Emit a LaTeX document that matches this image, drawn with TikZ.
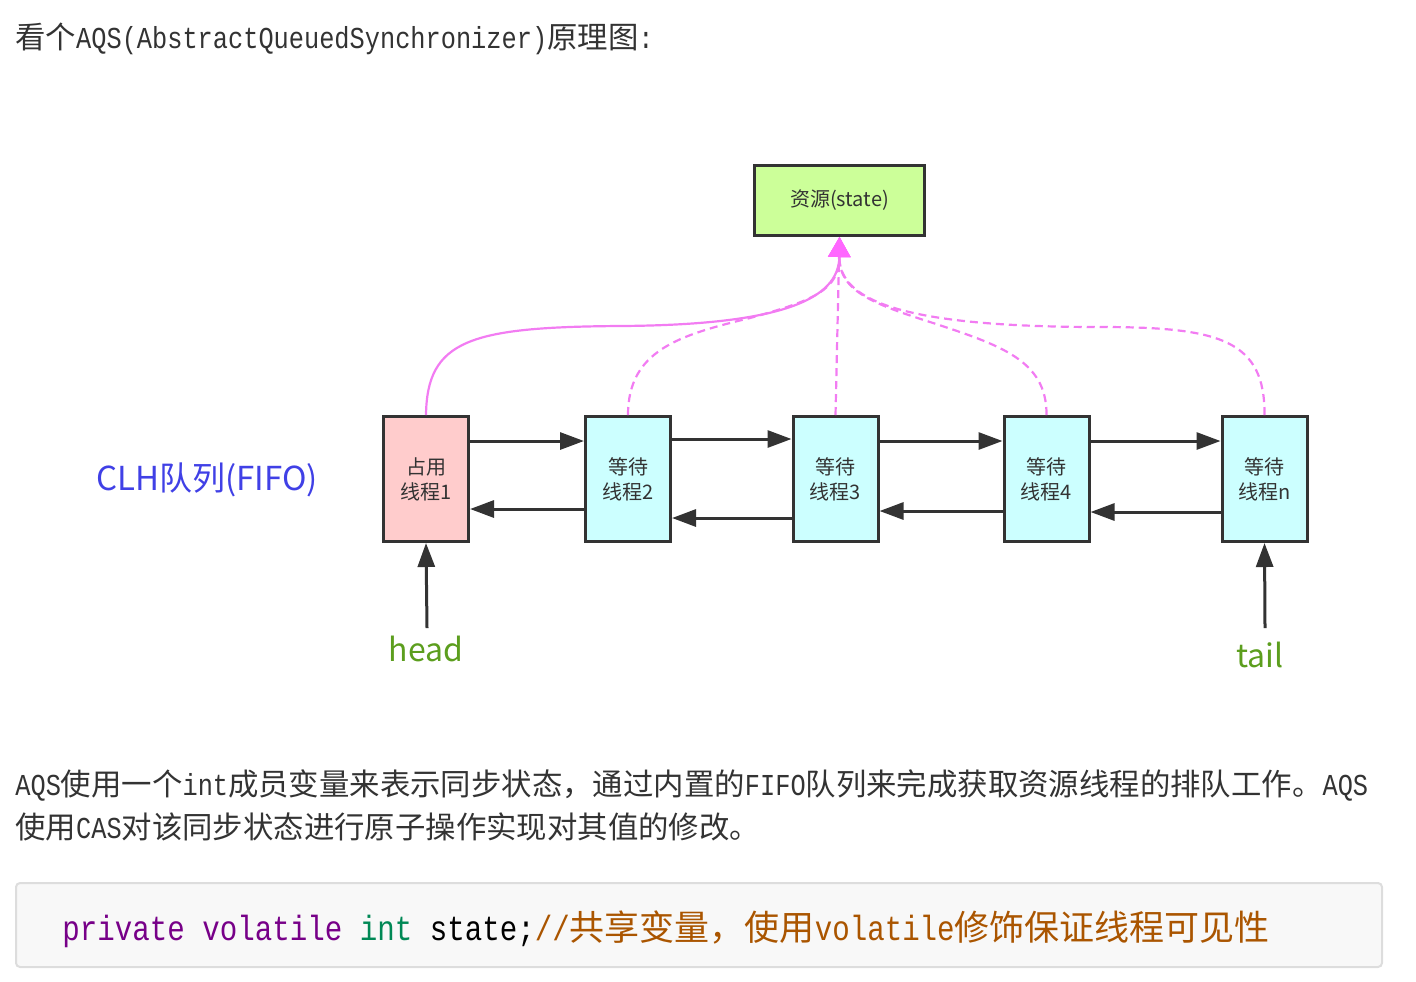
\documentclass[tikz,border=0pt]{standalone}
\usepackage{fontspec}
\setmainfont{Liberation Mono}[FakeStretch=0.833]
\newfontfamily\cjk{Noto Sans CJK SC}
\usetikzlibrary{arrows.meta}
\newcommand{\zh}[1]{{\cjk #1}}
\definecolor{ink}{HTML}{333333}
\definecolor{holdfill}{HTML}{FFCCCC}
\definecolor{waitfill}{HTML}{CCFFFF}
\definecolor{statefill}{HTML}{CCFF99}
\definecolor{pinkline}{HTML}{F27CF2}
\definecolor{pinktip}{HTML}{FF66FF}
\definecolor{clhblue}{HTML}{4040E6}
\definecolor{endgreen}{HTML}{5C9E1E}
\definecolor{kwpurple}{HTML}{770088}
\definecolor{typegreen}{HTML}{008855}
\definecolor{commentbrown}{HTML}{AA5500}
\definecolor{codebg}{HTML}{F8F8F8}
\definecolor{codeframe}{HTML}{DDDDDD}
\begin{document}
\begin{tikzpicture}[x=0.5pt,y=-0.5pt,
    thread/.style={draw=ink, line width=1.5pt, minimum width=42.5pt, minimum height=62.5pt,
        inner sep=0pt, align=center, text=ink, font=\cjk\fontsize{10pt}{12.5pt}\selectfont},
    link/.style={draw=ink, line width=1.5pt, -{Triangle[length=12pt,width=8.5pt]}},
    grab/.style={draw=pinkline, line width=1.1pt, -{Triangle[length=10pt,width=11pt,color=pinktip]}},
    grabwait/.style={grab, dash pattern=on 4pt off 2.5pt},
    para/.style={anchor=base west, inner sep=0pt, text=ink, font=\fontsize{15.2pt}{18pt}\selectfont}
    ]
    \useasboundingbox (0,0) rectangle (1416,981);

    % heading
    \node[para] (title) at (15,48) {\zh{看个}AQS(AbstractQueuedSynchronizer)\zh{原理图}:};

    % resource and queue
    \node[draw=ink, line width=1.5pt, fill=statefill, minimum width=85pt, minimum height=35pt,
        inner sep=0pt, text=ink, font=\cjk\fontsize{10pt}{12pt}\selectfont] (state) at (839.5,200.5) {资源(state)};
    \node[thread, fill=holdfill] (b1) at (426,479) {占用\\线程1};
    \node[thread, fill=waitfill] (b2) at (628,479) {等待\\线程2};
    \node[thread, fill=waitfill] (b3) at (835.5,479) {等待\\线程3};
    \node[thread, fill=waitfill] (b4) at (1046.5,479) {等待\\线程4};
    \node[thread, fill=waitfill] (b5) at (1264.5,479) {等待\\线程n};
    \node[text=clhblue, font=\cjk\fontsize{16.5pt}{18pt}\selectfont] (clh) at (207,480) {CLH队列(FIFO)};

    \foreach \a/\b/\yf/\yb in {b1/b2/441/509, b2/b3/439/518, b3/b4/441/511, b4/b5/441/512} {
        \draw[link] (\a.east |- 0,\yf) -- (\b.west |- 0,\yf);
        \draw[link] (\b.west |- 0,\yb) -- (\a.east |- 0,\yb);
    }

    % head and tail
    \node[anchor=base, inner sep=0pt, text=endgreen, font=\cjk\fontsize{16pt}{18pt}\selectfont] (head) at (426,661) {head};
    \node[anchor=base, inner sep=0pt, text=endgreen, font=\cjk\fontsize{16pt}{18pt}\selectfont] (tail) at (1260,667) {tail};
    \coordinate (hfoot) at (427,628);
    \coordinate (tfoot) at (1265,628);
    \draw[link] (hfoot) -- (b1.south);
    \draw[link] (tfoot) -- (b5.south);

    % access to the state
    \draw[grab] (b1.north) .. controls (427,340) and (470,327) .. (620,326)
        .. controls (780,325) and (839,300) .. (state.south);
    \draw[grabwait] (b2.north) .. controls (628,350) and (680,335) .. (750,318)
        .. controls (815,300) and (839,290) .. (state.south);
    \draw[grabwait] (b3.north) -- (state.south);
    \draw[grabwait] (b4.north) .. controls (1047,360) and (1000,345) .. (930,322)
        .. controls (870,303) and (839,290) .. (state.south);
    \draw[grabwait] (b5.north) .. controls (1265,340) and (1220,327) .. (1100,327)
        .. controls (900,327) and (839,300) .. (state.south);

    % text below
    \node[para] (line1) at (15,795) {AQS\zh{使用一个}int\zh{成员变量来表示同步状态，通过内置的}FIFO\zh{队列来完成获取资源线程的排队工作。}AQS};
    \node[para] (line2) at (15,838) {\zh{使用}CAS\zh{对该同步状态进行原子操作实现对其值的修改。}};

    % code
    \draw[codeframe, fill=codebg, line width=1pt, rounded corners=2pt] (16,883) rectangle (1382,967);
    \node[anchor=base west, inner sep=0pt, font=\fontsize{17.5pt}{20pt}\selectfont] (code) at (62,940)
        {\textcolor{kwpurple}{private volatile} \textcolor{typegreen}{int} state;\textcolor{commentbrown}{//\zh{共享变量，使用}volatile\zh{修饰保证线程可见性}}};
\end{tikzpicture}
\end{document}
